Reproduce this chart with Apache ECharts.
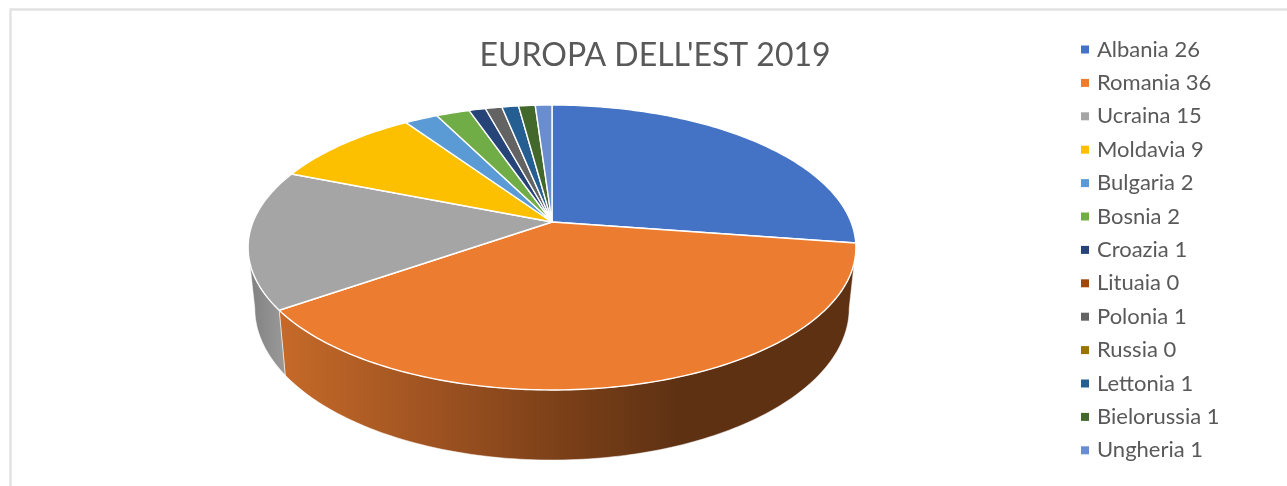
<!DOCTYPE html>
<html lang="it">
<head>
<meta charset="utf-8">
<title>EUROPA DELL'EST 2019</title>
<style>
  html, body { margin: 0; padding: 0; background: #fff; }
  #chart { width: 1287px; height: 486px; }
</style>
<script src="https://cdn.jsdelivr.net/npm/echarts@6/dist/echarts.min.js"></script>
</head>
<body>
<div id="chart"></div>
<script>
// Values per country
const categories = ['Albania', 'Romania', 'Ucraina', 'Moldavia', 'Bulgaria', 'Bosnia', 'Croazia',
                    'Lituaia', 'Polonia', 'Russia', 'Lettonia', 'Bielorussia', 'Ungheria'];
const values = [26, 36, 15, 9, 2, 2, 1, 0, 1, 0, 1, 1, 1];
const palette = ['#4472C4', '#EC7C30', '#A5A5A5', '#FCC000', '#5B9BD5', '#70AD47', '#264478',
                 '#9E480E', '#636363', '#997300', '#255E91', '#43682B', '#698ED0'];
const chartTitle = "EUROPA DELL'EST 2019";

// Wall shading per country; slices without an entry sit behind the disc
const wallShades = {
  Romania: [[0, '#C66A29'], [0.38, '#9F5321'], [0.7, '#7C4018'], [1, '#5E3113']],
  Ucraina: [[0, '#828282'], [1, '#9A9A9A']]
};
const wallGradientSpan = {
  Romania: [278, 680],
  Ucraina: [252, 285]
};

// Perspective disc: upper and lower faces of the cylinder
const perspective = 0.179;
const upperFace = { x: 552, y: 222, rx: 299, ry: 137.9 };
const lowerFace = { x: 552, y: 281, rx: 292.4, ry: 147 };
const tangentRight = Math.acos(-perspective);
const tangentLeft = 2 * Math.PI - tangentRight;

const total = values.reduce((a, b) => a + b, 0);

// Angle is measured clockwise from twelve o'clock
function project(face, angle) {
  const w = 1 + perspective * Math.cos(angle);
  return [face.x + face.rx * Math.sin(angle) / w, face.y - face.ry * Math.cos(angle) / w];
}

function arc(face, from, to) {
  const steps = Math.max(2, Math.ceil((to - from) / (Math.PI / 180)));
  const pts = [];
  for (let i = 0; i <= steps; i++) {
    pts.push(project(face, from + (to - from) * i / steps));
  }
  return pts;
}

function renderSlice(params, api) {
  const name = categories[params.seriesIndex];
  const from = api.value(0) / total * 2 * Math.PI;
  const to = api.value(1) / total * 2 * Math.PI;
  if (to <= from) return null;

  const children = [];
  const wallFrom = Math.max(from, tangentRight);
  const wallTo = Math.min(to, tangentLeft);
  if (wallTo > wallFrom && wallShades[name]) {
    const span = wallGradientSpan[name];
    children.push({
      type: 'polygon',
      shape: { points: arc(upperFace, wallFrom, wallTo).concat(arc(lowerFace, wallFrom, wallTo).reverse()) },
      style: {
        fill: {
          type: 'linear', global: true, x: span[0], y: 0, x2: span[1], y2: 0,
          colorStops: wallShades[name].map(s => ({ offset: s[0], color: s[1] }))
        },
        stroke: 'rgba(255,255,255,0.75)',
        lineWidth: 0.7
      }
    });
  }
  children.push({
    type: 'polygon',
    shape: { points: [[upperFace.x, upperFace.y]].concat(arc(upperFace, from, to)) },
    style: {
      fill: api.visual('color'),
      stroke: '#ffffff',
      lineWidth: 1.4,
      lineJoin: 'round'
    }
  });
  return { type: 'group', children };
}

let running = 0;
const series = categories.map((name, i) => {
  const start = running;
  running += values[i];
  return {
    type: 'custom',
    name: name + ' ' + values[i],
    coordinateSystem: 'none',
    silent: true,
    animation: false,
    renderItem: renderSlice,
    data: [[start, running]]
  };
});

const chart = echarts.init(document.getElementById('chart'), null, { renderer: 'canvas' });
chart.setOption({
  animation: false,
  backgroundColor: '#ffffff',
  color: palette,
  title: {
    text: chartTitle,
    left: 650,
    top: 35,
    textAlign: 'center',
    textStyle: { fontFamily: 'Lato', fontWeight: 'normal', fontSize: 32, color: '#595959' }
  },
  legend: {
    orient: 'vertical',
    left: 1081,
    top: 38.5,
    padding: 0,
    icon: 'rect',
    itemWidth: 8,
    itemHeight: 8,
    itemGap: 11.4,
    selectedMode: false,
    data: series.map(s => s.name),
    textStyle: { fontFamily: 'Lato', fontSize: 22, color: '#595959', padding: [0, 0, 0, 3] }
  },
  graphic: [{
    type: 'rect',
    silent: true,
    z: -1,
    shape: { x: 10.5, y: 9.5, width: 1400, height: 600 },
    style: { fill: 'none', stroke: '#E2E2E2', lineWidth: 2.4 }
  }],
  series
});
</script>
</body>
</html>
